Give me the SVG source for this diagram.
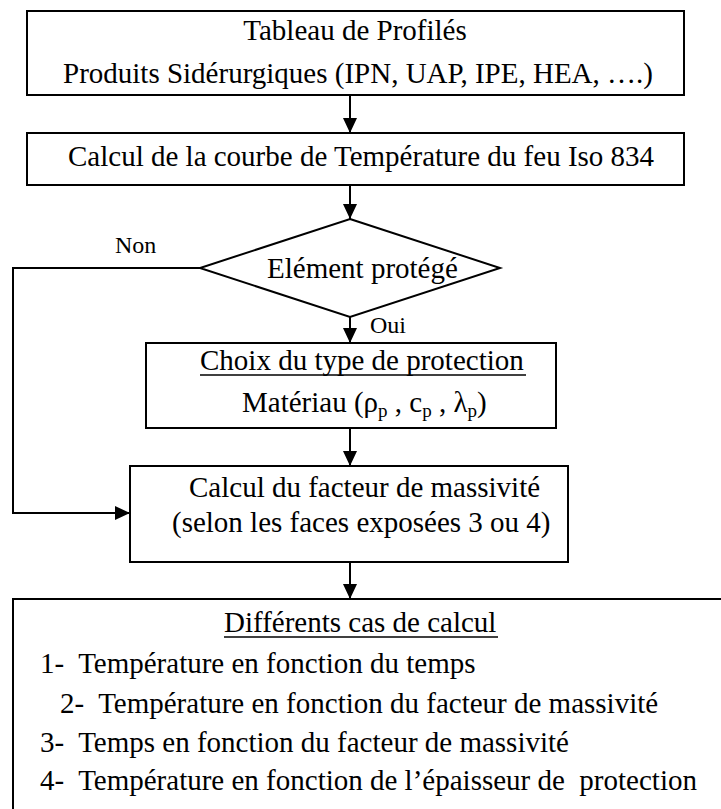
<svg xmlns="http://www.w3.org/2000/svg" width="721" height="809" viewBox="0 0 721 809">
<style>
.box{fill:#fff;stroke:#000;stroke-width:2}
.t{font-family:"Liberation Serif","Times New Roman",serif;font-size:29px;fill:#000}
.s{font-family:"Liberation Serif","Times New Roman",serif;font-size:24px;fill:#000}
.c{fill:none;stroke:#000;stroke-width:2}
.pre{white-space:pre}
</style>
<defs>
<marker id="ah" markerUnits="userSpaceOnUse" markerWidth="15" markerHeight="14" refX="15" refY="7" orient="auto">
<path d="M0,0 L15,7 L0,14 z" fill="#000"/>
</marker>
</defs>
<rect width="721" height="809" fill="#fff"/>
<g id="connectors">
<line class="c" x1="350" y1="95" x2="350" y2="133" marker-end="url(#ah)"/>
<line class="c" x1="350" y1="185" x2="350" y2="219" marker-end="url(#ah)"/>
<line class="c" x1="350" y1="317" x2="350" y2="343" marker-end="url(#ah)"/>
<line class="c" x1="350" y1="428" x2="350" y2="466" marker-end="url(#ah)"/>
<line class="c" x1="350" y1="562" x2="350" y2="599" marker-end="url(#ah)"/>
<polyline class="c" points="200,268 13,268 13,513 130,513" marker-end="url(#ah)"/>
<text class="s" x="115" y="253">Non</text>
<text class="s" x="370" y="333">Oui</text>
</g>
<g id="n1">
<rect class="box" x="27" y="11" width="657" height="84"/>
<text class="t" x="355" y="40" text-anchor="middle">Tableau de Profilés</text>
<text class="t" x="63" y="83">Produits Sidérurgiques (IPN, UAP, IPE, HEA, ….)</text>
</g>
<g id="n2">
<rect class="box" x="27" y="133" width="657" height="52"/>
<text class="t" x="68" y="166">Calcul de la courbe de Température du feu Iso 834</text>
</g>
<g id="n3">
<polygon class="box" points="350,219 500,268 350,317 200,268"/>
<text class="t" x="267" y="278">Elément protégé</text>
</g>
<g id="n4">
<rect class="box" x="146" y="343" width="410" height="85"/>
<text class="t" x="200" y="370">Choix du type de protection</text>
<line x1="200" y1="375" x2="526" y2="375" stroke="#000" stroke-width="1.5"/>
<text class="t" x="242" y="412">Matériau (ρ<tspan font-size="19" dy="5">p</tspan><tspan dy="-5"> , c</tspan><tspan font-size="19" dy="5">p</tspan><tspan dy="-5"> , λ</tspan><tspan font-size="19" dy="5">p</tspan><tspan dy="-5">)</tspan></text>
</g>
<g id="n5">
<rect class="box" x="130" y="466" width="438" height="96"/>
<text class="t" x="189" y="497">Calcul du facteur de massivité</text>
<text class="t" x="172" y="532">(selon les faces exposées 3 ou 4)</text>
</g>
<g id="n6">
<rect class="box" x="13" y="599" width="730" height="240"/>
<text class="t" x="224" y="632">Différents cas de calcul</text>
<line x1="224" y1="637" x2="498" y2="637" stroke="#000" stroke-width="1.5"/>
<text class="t pre" x="40" y="673">1-  Température en fonction du temps</text>
<text class="t pre" x="60" y="713">2-  Température en fonction du facteur de massivité</text>
<text class="t pre" x="40" y="752">3-  Temps en fonction du facteur de massivité</text>
<text class="t pre" x="40" y="790">4-  Température en fonction de l’épaisseur de  protection</text>
</g>
</svg>
